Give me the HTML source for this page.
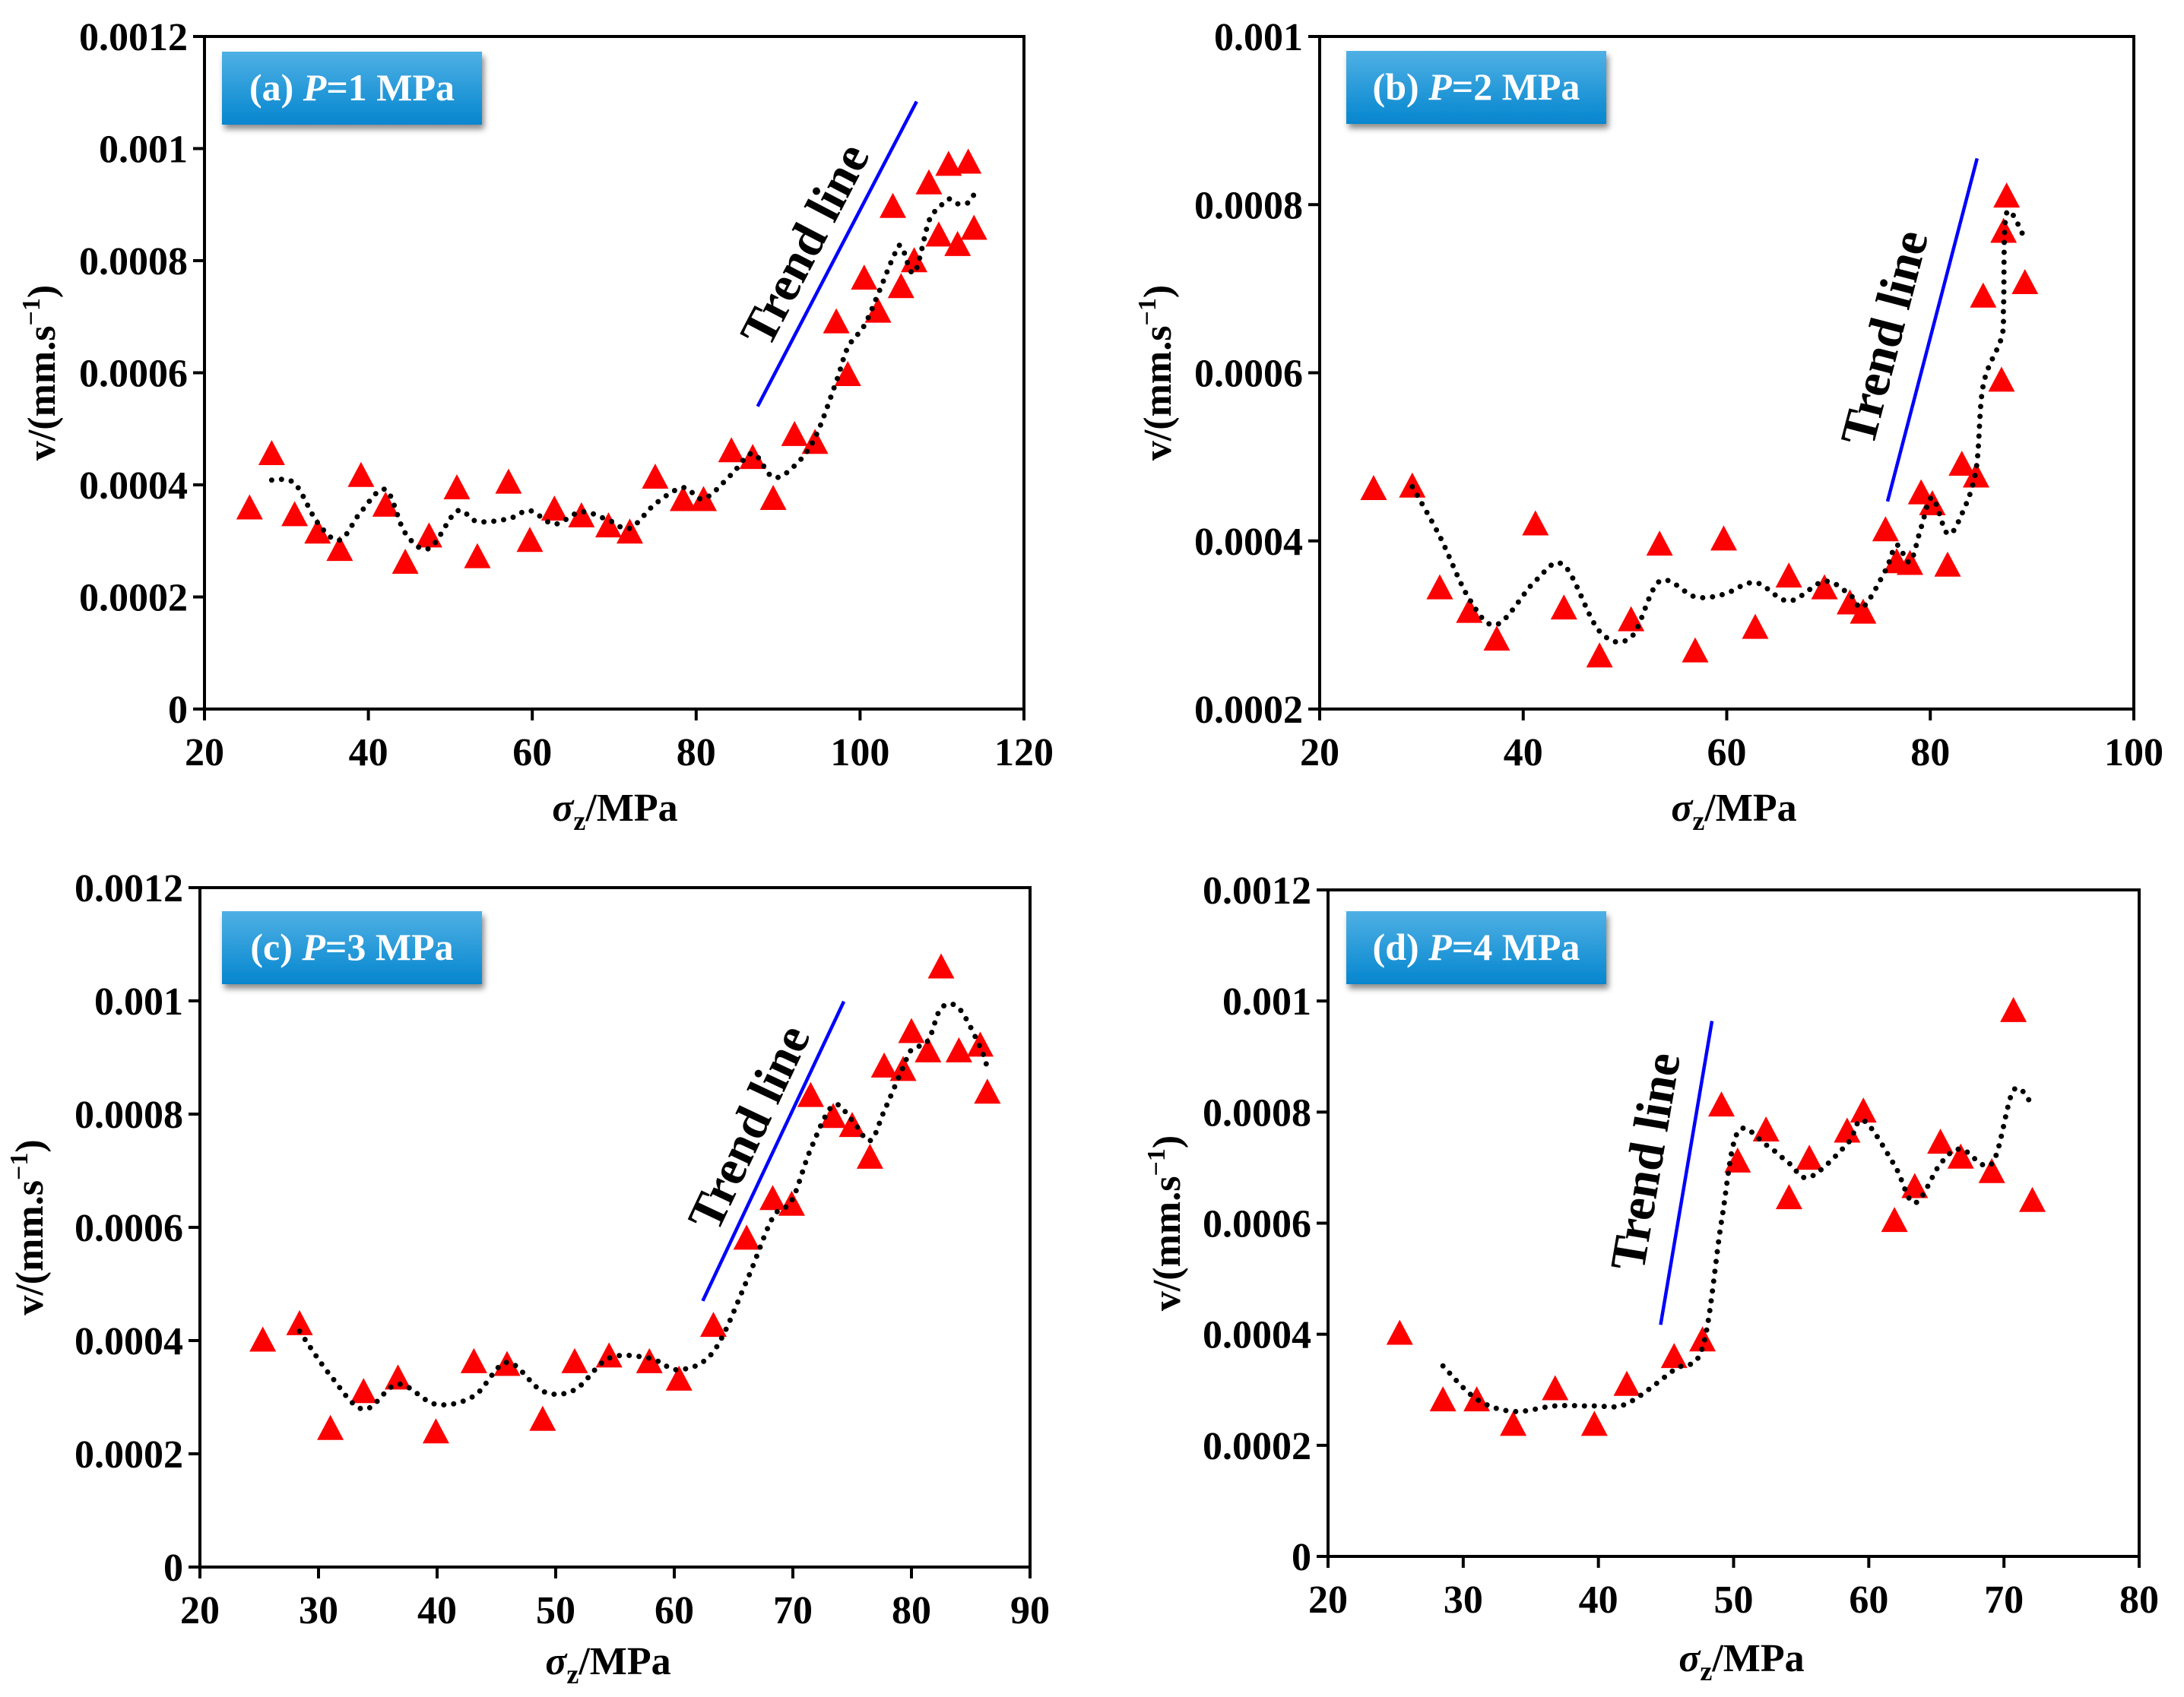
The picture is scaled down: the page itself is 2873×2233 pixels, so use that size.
<!DOCTYPE html>
<html><head><meta charset="utf-8"><style>
html,body{margin:0;padding:0;background:#fff;}
svg{display:block;}
</style></head><body>
<svg id="fig" width="2873" height="2233" viewBox="0 0 2873 2233" xmlns="http://www.w3.org/2000/svg">
<defs>
<linearGradient id="boxg" x1="0" y1="0" x2="0" y2="1"><stop offset="0" stop-color="#4fb0e4"/><stop offset="1" stop-color="#0586cf"/></linearGradient>
<filter id="sh" x="-10%" y="-10%" width="130%" height="140%"><feDropShadow dx="3" dy="6" stdDeviation="4" flood-color="#000" flood-opacity="0.45"/></filter>
</defs>
</svg>
<script>
// Panel (a) P=1 MPa
const aX=[25.5,28.2,31.0,33.8,36.5,39.1,42.1,44.5,47.4,50.8,53.3,57.1,59.7,62.7,66.0,69.3,71.9,75.0,78.4,80.9,84.3,86.9,89.4,92.0,94.5,97.1,98.5,100.5,102.2,104.0,105.0,106.6,108.4,109.6,110.8,111.9,113.2,113.9];
const aV=[0.00036,0.000457,0.000348,0.000317,0.000286,0.000418,0.000365,0.000263,0.00031,0.000396,0.000273,0.000406,0.000302,0.000358,0.000346,0.000328,0.000317,0.000415,0.000375,0.000375,0.000462,0.00045,0.000377,0.000491,0.000477,0.000692,0.000598,0.00077,0.000711,0.000898,0.000755,0.000801,0.00094,0.000847,0.000973,0.00083,0.000977,0.000859];
const aXTicks=[20,40,60,80,100,120];
const aYTicks=[0,0.0002,0.0004,0.0006,0.0008,0.001,0.0012];
const aYLabels=["0","0.0002","0.0004","0.0006","0.0008","0.001","0.0012"];
const aTrend=[[87.5,0.00054],[106.9,0.001084]];
// Panel (b) P=2 MPa
const bX=[25.3,29.1,31.8,34.7,37.4,41.2,44.0,47.5,50.6,53.4,56.9,59.7,62.8,66.1,69.6,72.1,73.4,75.6,76.7,78.0,79.1,80.2,81.7,83.1,84.5,85.2,87.0,87.2,87.5,89.3];
const bV=[0.000463,0.000466,0.000345,0.000317,0.000284,0.000421,0.000321,0.000264,0.000307,0.000397,0.00027,0.000403,0.000298,0.000359,0.000345,0.000327,0.000316,0.000414,0.000376,0.000374,0.000458,0.000445,0.000372,0.000492,0.000478,0.000692,0.000592,0.000769,0.000811,0.000708];
const bXTicks=[20,40,60,80,100];
const bYTicks=[0.0002,0.0004,0.0006,0.0008,0.001];
const bYLabels=["0.0002","0.0004","0.0006","0.0008","0.001"];
const bTrend=[[75.8,0.000447],[84.6,0.000855]];
// Panel (c) P=3 MPa
const cX=[25.3,28.4,31.0,33.8,36.7,39.9,43.1,45.9,48.9,51.6,54.5,57.9,60.4,63.3,66.1,68.3,69.9,71.5,73.4,75.0,76.5,77.7,79.3,80.0,81.4,82.5,84.0,85.8,86.4];
const cV=[0.000402,0.000431,0.000246,0.000311,0.000335,0.00024,0.000364,0.000359,0.000262,0.000364,0.000374,0.000364,0.000333,0.000428,0.000582,0.000652,0.000642,0.000834,0.000797,0.000781,0.000725,0.000886,0.00088,0.000947,0.000913,0.001061,0.000913,0.000923,0.00084];
const cXTicks=[20,30,40,50,60,70,80,90];
const cYTicks=[0,0.0002,0.0004,0.0006,0.0008,0.001,0.0012];
const cYLabels=["0","0.0002","0.0004","0.0006","0.0008","0.001","0.0012"];
const cTrend=[[62.4,0.00047],[74.3,0.000999]];
// Panel (d) P=4 MPa
const dX=[25.3,28.5,31.0,33.7,36.8,39.7,42.1,45.6,47.7,49.1,50.3,52.4,54.1,55.6,58.4,59.6,61.9,63.4,65.3,66.8,69.1,70.7,72.1];
const dV=[0.000403,0.000283,0.000283,0.000239,0.000303,0.000239,0.000311,0.000361,0.000391,0.000814,0.000713,0.000769,0.000647,0.000718,0.000767,0.000803,0.000606,0.000667,0.000747,0.00072,0.000694,0.000984,0.000642];
const dXTicks=[20,30,40,50,60,70,80];
const dYTicks=[0,0.0002,0.0004,0.0006,0.0008,0.001,0.0012];
const dYLabels=["0","0.0002","0.0004","0.0006","0.0008","0.001","0.0012"];
const dTrend=[[44.6,0.000417],[48.4,0.000964]];

const NS="http://www.w3.org/2000/svg";
const svg=document.getElementById('fig');
function mk(tag,attrs,parent){const e=document.createElementNS(NS,tag);for(const k in attrs)e.setAttribute(k,attrs[k]);(parent||svg).appendChild(e);return e;}
const FONT='"Liberation Serif", "DejaVu Serif", serif';

function panel(cfg){
  const g=mk('g',{});
  
  
  const L=cfg.L,R=cfg.R,T=cfg.T,B=cfg.B;
  const sx=v=>L+(v-cfg.xmin)/(cfg.xmax-cfg.xmin)*(R-L);
  const sy=v=>B-(v-cfg.ymin)/(cfg.ymax-cfg.ymin)*(B-T);
  const fr=mk('rect',{x:L,y:T,width:R-L,height:B-T,fill:'none',stroke:'#000','stroke-width':4},g);
  
  
  cfg.xt.forEach(v=>{
    const x=sx(v);
    const t=mk('line',{x1:x,y1:B,x2:x,y2:B+15,stroke:'#000','stroke-width':4},g);
    
    
    const tx=mk('text',{x:x,y:B+74,'text-anchor':'middle','font-family':FONT,'font-weight':'bold','font-size':52,fill:'#000'},g);
    tx.textContent=String(v);
    
    
  });
  cfg.yt.forEach((v,i)=>{
    const y=sy(v);
    const t=mk('line',{x1:L-15,y1:y,x2:L,y2:y,stroke:'#000','stroke-width':4},g);
    
    
    const tx=mk('text',{x:L-22,y:y+18,'text-anchor':'end','font-family':FONT,'font-weight':'bold','font-size':52,fill:'#000'},g);
    tx.textContent=cfg.yl[i];
    
    
  });
  const yt=mk('text',{x:0,y:0,transform:`translate(${cfg.ytx},${(T+B)/2}) rotate(-90)`,'text-anchor':'middle','font-family':FONT,'font-weight':'bold','font-size':52,fill:'#000'},g);
  yt.innerHTML='v/(mm.s<tspan dy="-20" font-size="34">−1</tspan><tspan dy="20">)</tspan>';
  
  
  const xtt=mk('text',{x:cfg.xtx,y:cfg.xty,'text-anchor':'middle','font-family':FONT,'font-weight':'bold','font-size':52,fill:'#000'},g);
  xtt.innerHTML='<tspan font-style="italic">σ</tspan><tspan dy="12" font-size="36">z</tspan><tspan dy="-12">/MPa</tspan>';
  
  
  const bx=mk('rect',{x:cfg.bx,y:cfg.by,width:342,height:96,fill:'url(#boxg)',filter:'url(#sh)'},g);
  
  
  const bt=mk('text',{x:cfg.bx+171,y:cfg.by+64,'text-anchor':'middle','font-family':FONT,'font-weight':'bold','font-size':50,fill:'#fff'},g);
  bt.innerHTML=`(${cfg.id}) <tspan font-style="italic">P</tspan>=${cfg.p} MPa`;
  
  
  const ma=[];
  for(let i=1;i<cfg.X.length;i++) ma.push([sx(cfg.X[i]),sy((cfg.V[i]+cfg.V[i-1])/2)]);
  let d=`M${ma[0][0]},${ma[0][1]}`;
  for(let i=0;i<ma.length-1;i++){
    const p0=ma[Math.max(0,i-1)],p1=ma[i],p2=ma[i+1],p3=ma[Math.min(ma.length-1,i+2)];
    const c1=[p1[0]+(p2[0]-p0[0])/6,p1[1]+(p2[1]-p0[1])/6];
    const c2=[p2[0]-(p3[0]-p1[0])/6,p2[1]-(p3[1]-p1[1])/6];
    d+=` C${c1[0]},${c1[1]} ${c2[0]},${c2[1]} ${p2[0]},${p2[1]}`;
  }
  cfg.X.forEach((x,i)=>{
    const cx=sx(x),cy=sy(cfg.V[i]);
    const tri=mk('polygon',{points:`${cx},${cy-17} ${cx+17.5},${cy+16} ${cx-17.5},${cy+16}`,fill:'#ff0000'},g);
    
    
  });
  const ml=mk('path',{d:d,fill:'none',stroke:'#000','stroke-width':7,'stroke-linecap':'round','stroke-dasharray':'0 13'},g);
  
  
  const x1=sx(cfg.tr[0][0]),y1=sy(cfg.tr[0][1]),x2=sx(cfg.tr[1][0]),y2=sy(cfg.tr[1][1]);
  const tl=mk('line',{x1:x1,y1:y1,x2:x2,y2:y2,stroke:'#0000ff','stroke-width':4.5},g);
  
  
  const ang=Math.atan2(y2-y1,x2-x1)*180/Math.PI;
  const tt=mk('text',{x:0,y:0,transform:`translate(${cfg.tlx},${cfg.tly}) rotate(${ang})`,'text-anchor':'middle','font-family':FONT,'font-weight':'bold','font-size':66,fill:'#000'},g);
  tt.textContent='Trend line';
  
  
}

panel({id:'a',p:1,L:269,R:1347,T:48,B:933,xmin:20,xmax:120,ymin:0,ymax:0.0012,xt:aXTicks,yt:aYTicks,yl:aYLabels,X:aX,V:aV,tr:aTrend,ytx:72,xtx:809,xty:1080,bx:292,by:68,tlx:1078,tly:332});
panel({id:'b',p:2,L:1736,R:2807,T:48,B:933,xmin:20,xmax:100,ymin:0.0002,ymax:0.001,xt:bXTicks,yt:bYTicks,yl:bYLabels,X:bX,V:bV,tr:bTrend,ytx:1540,xtx:2281,xty:1080,bx:1771,by:67,tlx:2500,tly:450});
panel({id:'c',p:3,L:263,R:1355,T:1168,B:2062,xmin:20,xmax:90,ymin:0,ymax:0.0012,xt:cXTicks,yt:cYTicks,yl:cYLabels,X:cX,V:cV,tr:cTrend,ytx:56,xtx:800,xty:2203,bx:292,by:1199,tlx:1005,tly:1493});
panel({id:'d',p:4,L:1747,R:2814,T:1171,B:2048,xmin:20,xmax:80,ymin:0,ymax:0.0012,xt:dXTicks,yt:dYTicks,yl:dYLabels,X:dX,V:dV,tr:dTrend,ytx:1552,xtx:2291,xty:2199,bx:1771,by:1199,tlx:2186,tly:1532});
</script>
</body></html>
